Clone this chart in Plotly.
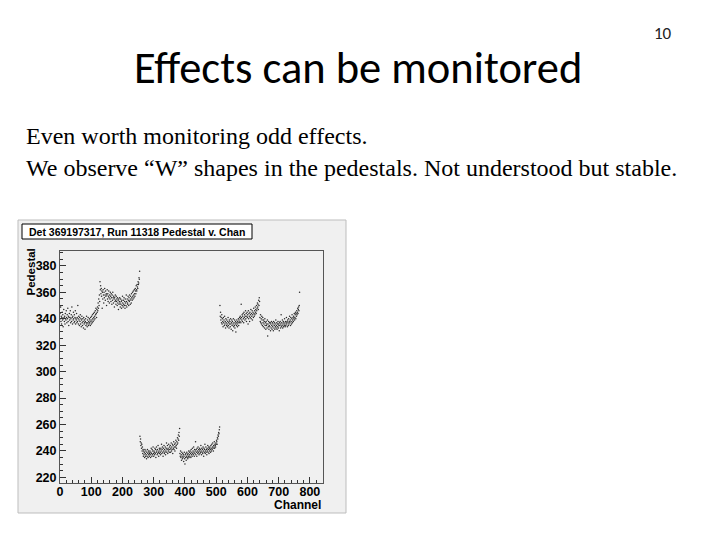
import plotly.graph_objects as go

# ---------------- data ----------------
apv0 = [344, 340, 349, 338, 342, 336, 341, 345, 339, 343, 334, 340, 347, 341, 338, 342, 336, 344, 340, 339, 346, 341, 337, 343, 340, 348, 338, 342, 335, 341, 344, 339,
        341, 346, 337, 340, 343, 338, 349, 341, 336, 342, 339, 345, 340, 337, 343, 338, 341, 346, 336, 340, 339, 344, 337, 341, 338, 350, 340, 336, 342, 339, 335, 341,
        338, 343, 336, 340, 334, 339, 342, 337, 335, 340, 338, 333, 341, 336, 339, 337, 332, 338, 340, 335, 337, 342, 336, 334, 339, 337, 341, 335, 338, 336, 340, 337,
        339, 335, 341, 338, 336, 342, 339, 337, 343, 340, 338, 344, 341, 339, 345, 342, 340, 346, 343, 348, 344, 341, 347, 345, 349, 346, 352, 348, 355, 350, 358, 353]
apv1 = [368, 362, 365, 359, 363, 357, 361, 348, 360, 355, 362, 358, 352, 360, 356, 363, 358, 354, 361, 357, 359, 350, 358, 362, 355, 359, 353, 357, 361, 356, 352, 358,
        355, 360, 357, 353, 359, 356, 351, 358, 354, 360, 356, 352, 357, 355, 349, 356, 353, 358, 354, 351, 357, 353, 355, 350, 356, 352, 354, 347, 355, 351, 353, 356,
        352, 349, 355, 351, 353, 348, 354, 350, 357, 352, 349, 354, 351, 356, 350, 353, 348, 355, 352, 350, 358, 353, 349, 355, 352, 351, 357, 354, 350, 356, 353, 358,
        354, 351, 357, 355, 352, 359, 356, 354, 360, 357, 355, 361, 358, 356, 362, 359, 357, 363, 361, 359, 365, 362, 361, 366, 364, 363, 368, 366, 367, 371, 370, 376]
apv2 = [251, 247, 249, 244, 246, 242, 245, 240, 243, 238, 241, 236, 240, 237, 239, 235, 241, 238, 236, 240, 237, 234, 239, 236, 241, 238, 235, 240, 237, 239, 236, 238,
        240, 237, 235, 239, 242, 238, 236, 241, 237, 240, 243, 238, 236, 240, 239, 237, 242, 238, 241, 235, 239, 243, 240, 237, 241, 238, 244, 239, 236, 240, 242, 238,
        241, 239, 237, 242, 240, 245, 238, 241, 243, 239, 236, 242, 240, 244, 238, 241, 239, 243, 237, 240, 242, 246, 239, 241, 244, 238, 242, 240, 245, 241, 239, 243,
        241, 244, 239, 242, 246, 240, 243, 241, 245, 238, 244, 242, 247, 241, 243, 245, 240, 246, 243, 248, 244, 242, 247, 245, 250, 246, 249, 252, 248, 254, 251, 257]
apv3 = [238, 236, 240, 235, 237, 233, 239, 236, 234, 238, 235, 237, 232, 236, 239, 234, 230, 237, 235, 238, 233, 236, 239, 235, 237, 234, 238, 236, 240, 235, 237, 239,
        236, 240, 238, 235, 241, 237, 239, 236, 242, 238, 240, 237, 243, 239, 236, 241, 238, 240, 247, 237, 241, 239, 236, 242, 240, 238, 243, 239, 241, 237, 240, 242,
        238, 241, 239, 244, 240, 237, 242, 239, 241, 238, 243, 240, 236, 242, 239, 241, 245, 238, 240, 243, 239, 241, 237, 242, 240, 244, 239, 241, 243, 238, 242, 240,
        243, 241, 239, 244, 242, 240, 245, 241, 243, 246, 242, 240, 244, 243, 247, 242, 245, 244, 243, 246, 245, 248, 247, 245, 250, 249, 252, 251, 254, 253, 256, 258]
apv4 = [350, 342, 345, 339, 341, 337, 343, 336, 340, 338, 334, 341, 337, 339, 335, 342, 336, 338, 333, 340, 337, 335, 339, 336, 334, 338, 341, 335, 337, 333, 339, 336,
        338, 334, 340, 336, 332, 337, 339, 335, 338, 331, 336, 340, 334, 337, 335, 339, 333, 336, 338, 330, 337, 335, 339, 336, 334, 338, 337, 340, 335, 339, 337, 341,
        338, 342, 340, 337, 351, 341, 339, 343, 338, 342, 344, 340, 337, 345, 341, 343, 339, 342, 346, 340, 344, 338, 342, 345, 341, 343, 336, 346, 340, 344, 342, 338,
        345, 341, 343, 347, 340, 344, 342, 346, 339, 343, 345, 341, 348, 344, 342, 346, 343, 349, 345, 347, 344, 350, 346, 348, 352, 349, 351, 347, 354, 350, 356, 353]
apv5 = [341, 338, 343, 337, 340, 336, 342, 339, 335, 341, 337, 334, 339, 336, 338, 333, 340, 335, 337, 332, 338, 335, 336, 333, 339, 327, 336, 334, 338, 332, 335, 337,
        334, 337, 331, 336, 333, 338, 335, 332, 337, 334, 336, 331, 338, 333, 335, 337, 332, 336, 334, 339, 333, 335, 337, 332, 336, 334, 338, 333, 336, 335, 331, 337,
        335, 338, 333, 336, 343, 334, 337, 335, 339, 333, 336, 338, 334, 337, 335, 340, 336, 334, 338, 335, 337, 341, 336, 338, 334, 339, 337, 335, 340, 336, 338, 342,
        337, 339, 335, 341, 338, 336, 340, 343, 337, 339, 341, 338, 342, 340, 344, 339, 341, 343, 345, 340, 344, 342, 346, 343, 345, 348, 344, 347, 349, 346, 350, 360]

pedestal = apv0 + apv1 + apv2 + apv3 + apv4 + apv5
channel = list(range(len(pedestal)))

x_ticks = [0, 100, 200, 300, 400, 500, 600, 700, 800]
y_ticks = [220, 240, 260, 280, 300, 320, 340, 360, 380]

slide_title = "Effects can be monitored"
slide_number = "10"
body_lines = ["Even worth monitoring odd effects.",
              "We observe \u201cW\u201d shapes in the pedestals. Not understood but stable."]
hist_title = "Det 369197317, Run 11318 Pedestal v. Chan"

# ---------------- layout helpers (page pixel -> paper) ----------------
OFF = 8  # page body margin of the html page
FW, FH = 720 - OFF, 540 - OFF
PL, PR, PT, PB = 60, 323, 251, 483   # plot frame in page pixels
def px(x):
    return (x - PL) / (PR - PL)
def py(y):
    return (PB - y) / (PB - PT)

fig = go.Figure()
fig.add_trace(go.Scatter(
    x=channel, y=pedestal, mode="markers",
    marker=dict(size=1.5, color="#2a2a2a", line=dict(width=0)),
    showlegend=False, hoverinfo="x+y"))

canvas_bg = "#f0f0f0"
tickfont = dict(family="Liberation Sans, Arial, sans-serif", size=12.5, color="black", weight="bold")

fig.update_layout(
    width=FW, height=FH,
    margin=dict(l=PL - OFF, r=FW - (PR - OFF), t=PT - OFF, b=FH - (PB - OFF), pad=0),
    paper_bgcolor="white",
    plot_bgcolor=canvas_bg,
    font=dict(family="Liberation Sans, Arial, sans-serif", color="black"),
    xaxis=dict(range=[0, 842], tickvals=x_ticks, ticktext=[str(v) for v in x_ticks],
               ticks="inside", ticklen=6, tickwidth=1, tickcolor="#333333",
               minor=dict(dtick=20, tick0=0, ticks="inside", ticklen=3, tickcolor="#333333", showgrid=False),
               showline=True, linecolor="#555555", linewidth=1, mirror=True,
               showgrid=False, zeroline=False, tickfont=tickfont, ticklabelstandoff=-3),
    yaxis=dict(range=[215.7, 391.3], tickvals=y_ticks, ticktext=[str(v) for v in y_ticks],
               ticks="inside", ticklen=6, tickwidth=1, tickcolor="#333333",
               minor=dict(dtick=5, tick0=0, ticks="inside", ticklen=3, tickcolor="#333333", showgrid=False),
               showline=True, linecolor="#555555", linewidth=1, mirror=True,
               showgrid=False, zeroline=False, tickfont=tickfont),
)

# ROOT canvas background
fig.add_shape(type="rect", xref="paper", yref="paper", layer="below",
              x0=px(18), x1=px(346), y0=py(513), y1=py(220),
              fillcolor=canvas_bg, line=dict(color="#bdbdbd", width=1))
# histogram title box
fig.add_shape(type="rect", xref="paper", yref="paper",
              x0=px(22), x1=px(252), y0=py(239), y1=py(224),
              fillcolor="white", line=dict(color="black", width=1))

ann = []
ann.append(dict(text="<b>" + hist_title + "</b>", x=px(137), y=py(231.5), xref="paper", yref="paper",
                xanchor="center", yanchor="middle", showarrow=False,
                font=dict(family="Liberation Sans, Arial, sans-serif", size=10.5, color="black")))
ann.append(dict(text="<b>Channel</b>", x=px(323), y=py(504.5), xref="paper", yref="paper",
                xanchor="right", yanchor="middle", showarrow=False,
                font=dict(family="Liberation Sans, Arial, sans-serif", size=12, color="black")))
ann.append(dict(text="<b>Pedestal</b>", x=px(30), y=py(272.5), xref="paper", yref="paper",
                xanchor="center", yanchor="middle", showarrow=False, textangle=-90,
                font=dict(family="Liberation Sans, Arial, sans-serif", size=11.5, color="black")))
ann.append(dict(text=slide_title, x=px(358), y=py(68), xref="paper", yref="paper",
                xanchor="center", yanchor="middle", showarrow=False,
                font=dict(family="Carlito, Lato, sans-serif", size=44.5, color="black")))
ann.append(dict(text=slide_number, x=px(663), y=py(33), xref="paper", yref="paper",
                xanchor="center", yanchor="middle", showarrow=False,
                font=dict(family="Carlito, Lato, sans-serif", size=17, color="#222222")))
ann.append(dict(text=body_lines[0], x=px(24), y=py(136), xref="paper", yref="paper",
                xanchor="left", yanchor="middle", showarrow=False,
                font=dict(family="Liberation Serif, Times New Roman, serif", size=24, color="black")))
ann.append(dict(text=body_lines[1], x=px(24), y=py(168), xref="paper", yref="paper",
                xanchor="left", yanchor="middle", showarrow=False,
                font=dict(family="Liberation Serif, Times New Roman, serif", size=24, color="black")))
fig.update_layout(annotations=ann)

fig.write_html("out.html")
